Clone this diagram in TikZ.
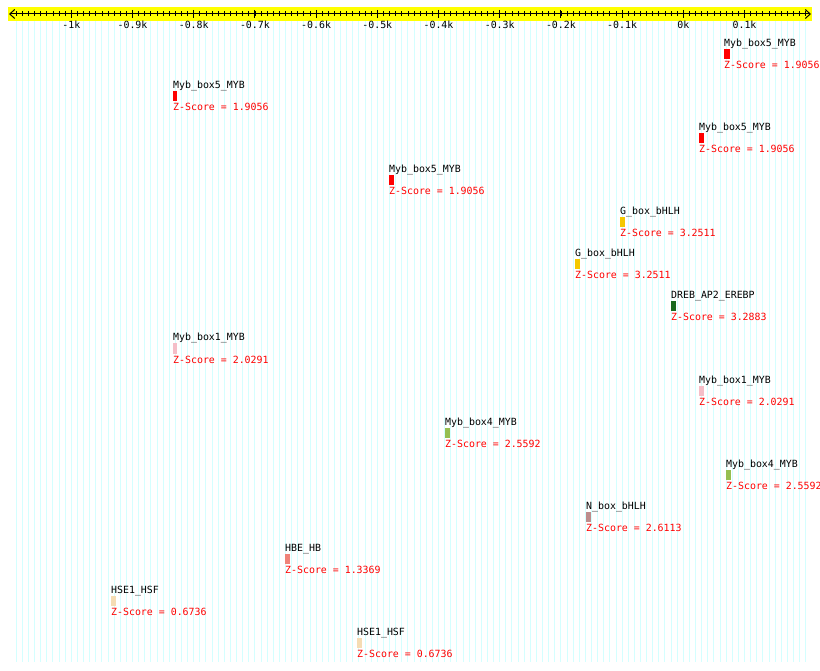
\documentclass[tikz,border=0pt]{standalone}
\usepackage{fontspec}
\setmonofont{DejaVu Sans Mono}
\usetikzlibrary{arrows.meta}
\definecolor{gridcyan}{RGB}{212,255,255}
\definecolor{bandyellow}{RGB}{255,255,0}
\definecolor{colmybfive}{RGB}{255,0,0}
\definecolor{colgbox}{RGB}{245,200,0}
\definecolor{coldreb}{RGB}{25,105,30}
\definecolor{colmybone}{RGB}{245,190,200}
\definecolor{colmybfour}{RGB}{150,190,80}
\definecolor{colnbox}{RGB}{190,140,140}
\definecolor{colhbe}{RGB}{240,130,120}
\definecolor{colhse}{RGB}{245,220,180}

\begin{document}
\begin{tikzpicture}[x=1pt, y=-1pt, font=\ttfamily\fontsize{9.9}{11}\selectfont,
    motifname/.style={anchor=base west, inner sep=0pt},
    zscore/.style={anchor=base west, inner sep=0pt, text=red},
    ticklabel/.style={anchor=base, inner sep=0pt}]
    \useasboundingbox (0,0) rectangle (820,671);
    % background grid, one line per 10 bp
    \foreach \v in {-1090,-1080,...,200}
        \draw[gridcyan, line width=0.9pt] ({683.3+0.612*\v},21) -- ({683.3+0.612*\v},662);
    % position axis
    \fill[bandyellow] (8,7) rectangle (812,21);
    \draw[line width=1pt, {Straight Barb[length=5pt, width=9pt]}-{Straight Barb[length=5pt, width=9pt]}] (9,14) -- (811,14);
    \foreach \v in {-1090,-1080,...,200}
        \draw[line width=0.8pt] ({683.3+0.612*\v},11.5) -- ({683.3+0.612*\v},16.5);
    \foreach \v/\t in {-1000/-1k, -900/-0.9k, -800/-0.8k, -700/-0.7k, -600/-0.6k, -500/-0.5k,
                       -400/-0.4k, -300/-0.3k, -200/-0.2k, -100/-0.1k, 0/0k, 100/0.1k} {
        \draw[line width=1pt] ({683.3+0.612*\v},10) -- ({683.3+0.612*\v},18.5);
        \node[ticklabel] (tick\v) at ({683.3+0.612*\v},29) {\t};
    }
    % motif hits, one row each
    \foreach \i/\x/\w/\name/\col/\z in {
        1/724/5.5/Myb\_box5\_MYB/colmybfive/1.9056,
        2/173/4/Myb\_box5\_MYB/colmybfive/1.9056,
        3/699/5/Myb\_box5\_MYB/colmybfive/1.9056,
        4/389/5/Myb\_box5\_MYB/colmybfive/1.9056,
        5/620/5/G\_box\_bHLH/colgbox/3.2511,
        6/575/5/G\_box\_bHLH/colgbox/3.2511,
        7/671/5/DREB\_AP2\_EREBP/coldreb/3.2883,
        8/173/4/Myb\_box1\_MYB/colmybone/2.0291,
        9/699/5/Myb\_box1\_MYB/colmybone/2.0291,
        10/445/5/Myb\_box4\_MYB/colmybfour/2.5592,
        11/726/5/Myb\_box4\_MYB/colmybfour/2.5592,
        12/586/5/N\_box\_bHLH/colnbox/2.6113,
        13/285/5/HBE\_HB/colhbe/1.3369,
        14/111/5/HSE1\_HSF/colhse/0.6736,
        15/357/5/HSE1\_HSF/colhse/0.6736} {
        \pgfmathsetmacro{\yb}{47+42*(\i-1)}
        \node[motifname] (name\i) at (\x,\yb) {\name};
        \fill[\col] (\x,\yb+2.5) rectangle ++(\w,10);
        \node[zscore] (z\i) at (\x,\yb+22) {Z-Score = \z};
    }
\end{tikzpicture}
\end{document}
